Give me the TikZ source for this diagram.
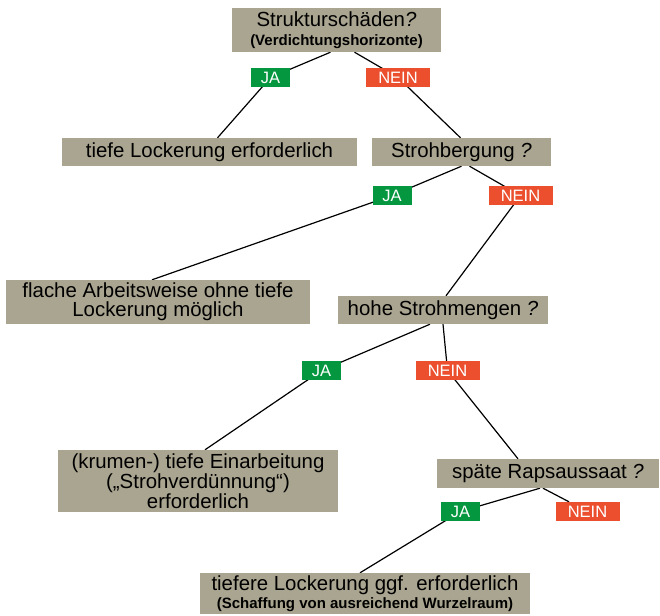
\documentclass[tikz,border=0pt]{standalone}
\usepackage{fontspec}
\setmainfont{Liberation Sans}
\usepackage{tikz}
\usetikzlibrary{backgrounds, positioning}
\definecolor{BOX}{HTML}{AAA590}
\definecolor{YES}{HTML}{05973F}
\definecolor{NO}{HTML}{EB4F2E}
\newcommand\SUBfont{\fontsize{15}{16}\selectfont\bfseries}% small bold second line
\tikzset{
  QBOX/.style={% Style for question and result boxes
      rectangle,
      fill=BOX,
      align=center,
      text=black,
      font=\fontsize{20.4}{19}\selectfont,
      inner sep=0pt,
  },
  JA/.style={% green answer tag
      rectangle, fill=YES, text=white,
      minimum width=39pt, minimum height=19pt,
      inner sep=0pt,
      font=\fontsize{16.5}{17}\selectfont,
  },
  NEIN/.style={% red answer tag
      JA, fill=NO, minimum width=64pt,
  },
  link/.style={line width=1.2pt, black},
}
\def\branch#1#2#3{% parent / tag / child
  \draw[link] (#1) -- (#2.center) -- (#3);
}

\begin{document}
\begin{tikzpicture}[x=1pt, y=-1pt]
  \useasboundingbox (0,0) rectangle (660,615);
  % boxes
  \node[QBOX, minimum width=209pt, minimum height=44pt] (struktur) at (336.5,30)
    {Strukturschäden\textit{?}\\{\SUBfont(Verdichtungshorizonte)}};
  \node[QBOX, minimum width=295pt, minimum height=28pt] (tiefe) at (209.5,152)
    {tiefe Lockerung erforderlich};
  \node[QBOX, minimum width=179pt, minimum height=28pt] (stroh) at (461.5,152)
    {Strohbergung \textit{?}};
  \node[QBOX, minimum width=304pt, minimum height=44pt] (flach) at (158,302)
    {flache Arbeitsweise ohne tiefe\\Lockerung möglich};
  \node[QBOX, minimum width=210pt, minimum height=28pt] (menge) at (443,310)
    {hohe Strohmengen \textit{?}};
  \node[QBOX, minimum width=280pt, minimum height=62pt] (krume) at (198,481)
    {(krumen-) tiefe Einarbeitung\\(„Strohverdünnung“)\\erforderlich};
  \node[QBOX, minimum width=222pt, minimum height=29pt] (raps) at (548,473.5)
    {späte Rapsaussaat \textit{?}};
  \node[QBOX, minimum width=330pt, minimum height=41pt] (tiefer) at (365,593.5)
    {tiefere Lockerung ggf. erforderlich\\[-1pt]{\SUBfont(Schaffung von ausreichend Wurzelraum)}};
  % answer tags
  \node[JA] (ja1) at (270.5,77.5) {JA};
  \node[NEIN] (nein1) at (398,77.5) {NEIN};
  \node[JA] (ja2) at (392,195.5) {JA};
  \node[NEIN] (nein2) at (520.5,195.5) {NEIN};
  \node[JA] (ja3) at (321.5,370.5) {JA};
  \node[NEIN] (nein3) at (447.5,370.5) {NEIN};
  \node[JA] (ja4) at (460.5,511.5) {JA};
  \node[NEIN] (nein4) at (587.5,511.5) {NEIN};
  % connectors
  \begin{scope}[on background layer]
    \branch{[xshift=-6pt]struktur.south}{ja1}{[xshift=8pt]tiefe.north}
    \branch{[xshift=18pt]struktur.south}{nein1}{[xshift=-1pt]stroh.north}
    \branch{stroh.south}{ja2}{[xshift=-6pt]flach.north}
    \branch{[xshift=8pt]stroh.south}{nein2}{[xshift=3pt]menge.north}
    \branch{[xshift=-13pt]menge.south}{ja3}{[xshift=7pt]krume.north}
    \branch{menge.south}{nein3}{[xshift=-30pt]raps.north}
    \branch{[xshift=-8pt]raps.south}{ja4}{[xshift=-5pt]tiefer.north}
    \draw[link] ([xshift=-5pt]raps.south) -- (nein4);
  \end{scope}
\end{tikzpicture}
\end{document}
